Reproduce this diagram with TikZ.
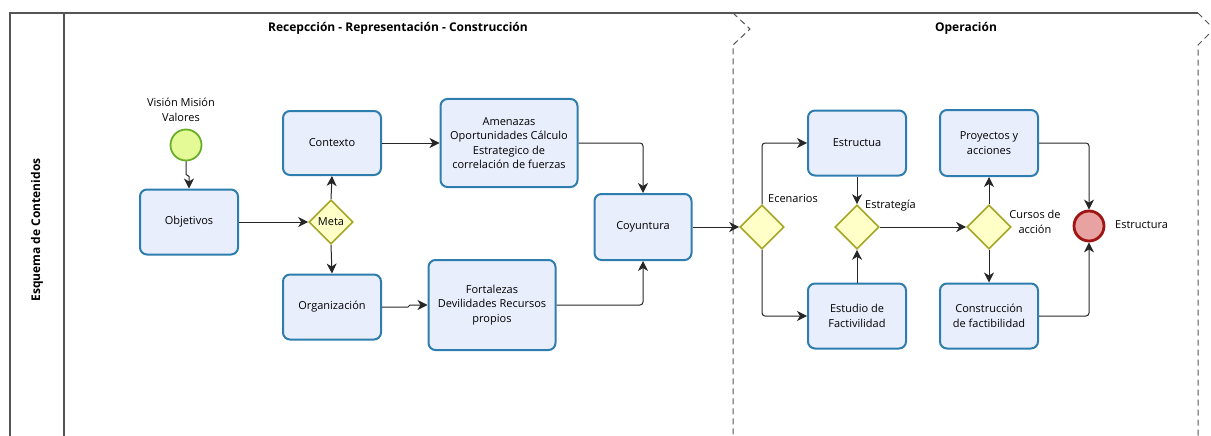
\documentclass[tikz,border=0pt]{standalone}
\usepackage{fontspec}
\setmainfont{Open Sans}
\usetikzlibrary{shapes.geometric,arrows.meta,positioning}
\definecolor{boxfill}{HTML}{E9EEFC}
\definecolor{boxdraw}{HTML}{2E7DAF}
\definecolor{gwfill}{HTML}{FFFFC8}
\definecolor{gwdraw}{HTML}{A6A626}
\definecolor{stfill}{HTML}{E4FA96}
\definecolor{stdraw}{HTML}{6BAE28}
\definecolor{enfill}{HTML}{E8A2A2}
\definecolor{endraw}{HTML}{A01414}
\definecolor{pool}{HTML}{555555}
\tikzset{
  task/.style={draw=boxdraw,fill=boxfill,line width=2pt,rounded corners=7pt,align=center,font=\fontsize{11}{14.5}\selectfont,inner sep=1pt},
  gw/.style={diamond,draw=gwdraw,fill=gwfill,line width=1.6pt,minimum width=44pt,minimum height=44pt,inner sep=0pt,font=\fontsize{11}{14}\selectfont},
  startev/.style={circle,draw=stdraw,fill=stfill,line width=1.8pt,minimum size=31pt,inner sep=0pt},
  endev/.style={circle,draw=endraw,fill=enfill,line width=2.8pt,minimum size=30pt,inner sep=0pt},
  lbl/.style={align=center,font=\fontsize{11}{14.5}\selectfont,inner sep=1pt},
  ttl/.style={font=\bfseries\fontsize{12}{14}\selectfont},
  flow/.style={draw=black!85,line width=1pt,rounded corners=3pt,-{Stealth[length=10pt,width=10pt,inset=3pt]}},
  poolline/.style={draw=pool,line width=1.2pt},
  sep/.style={draw=pool,line width=1pt,dash pattern=on 6pt off 4pt},
}
\begin{document}
\begin{tikzpicture}[x=1pt,y=-1pt]
\useasboundingbox (0,0) rectangle (1211,436);
% pool
\draw[poolline] (10,436) -- (10,13) -- (1198,13);
\draw[poolline] (64,13) -- (64,436);
\draw[sep] (733,13) -- (750,29) -- (733,45) -- (733,436);
\draw[sep] (1198,13) -- (1214,29) -- (1198,45) -- (1198,436);
\node[ttl,rotate=90] (pname) at (37,230) {Esquema de Contenidos};
\node[ttl] (t1) at (398,28) {Recepcción - Representación - Construcción};
\node[ttl] (t2) at (966,28) {Operación};
% nodes
\node[startev] (start) at (186,145) {};
\node[lbl] (startl) at (181,110) {Visión Misión\\Valores};
\node[task,minimum width=98pt,minimum height=65pt] (obj) at (189,222) {Objetivos};
\node[gw] (meta) at (331,222) {Meta};
\node[task,minimum width=98pt,minimum height=64pt] (ctx) at (332,143) {Contexto};
\node[task,minimum width=98pt,minimum height=65pt] (org) at (332,307) {Organización};
\node[task,minimum width=137pt,minimum height=88pt] (ame) at (509,143) {Amenazas\\Oportunidades Cálculo\\Estrategico de\\correlación de fuerzas};
\node[task,minimum width=127pt,minimum height=90pt] (fort) at (492,305) {Fortalezas\\Devilidades Recursos\\propios};
\node[task,minimum width=97pt,minimum height=66pt] (coy) at (643,227) {Coyuntura};
\node[gw] (esc) at (762,227) {};
\node[lbl,anchor=west] (escl) at (767,199) {Ecenarios};
\node[task,minimum width=98pt,minimum height=65pt] (estr) at (857,143) {Estructua};
\node[task,minimum width=98pt,minimum height=65pt] (estu) at (857,316) {Estudio de\\Factivilidad};
\node[gw] (estg) at (857,227) {};
\node[lbl,anchor=west] (estgl) at (864,206) {Estrategía};
\node[gw] (cur) at (989,227) {};
\node[lbl] (curl) at (1035,222) {Cursos de\\acción};
\node[task,minimum width=98pt,minimum height=66pt] (proy) at (989,143) {Proyectos y\\acciones};
\node[task,minimum width=98pt,minimum height=65pt] (cons) at (989,316) {Construcción\\de factibilidad};
\node[endev] (fin) at (1089,226) {};
\node[lbl,anchor=west] (finl) at (1114,225) {Estructura};
% flows
\draw[flow,rounded corners=0pt] (start.south) -- ++(0,13) -- ++(3,2) -- (obj.north);
\draw[flow] (obj.east) -- (meta.west);
\draw[flow] (meta.north) -- (ctx.south);
\draw[flow] (meta.south) -- (org.north);
\draw[flow] (ctx.east) -- (ame.west);
\draw[flow,rounded corners=0pt] (org.east) -- ++(26,0) -- ++(2,-2) -- (fort.west);
\draw[flow] (ame.east) -| (coy.north);
\draw[flow] (fort.east) -| (coy.south);
\draw[flow] (coy.east) -- (esc.west);
\draw[flow] (esc.north) |- (estr.west);
\draw[flow] (esc.south) |- (estu.west);
\draw[flow] (estr.south) -- (estg.north);
\draw[flow] (estu.north) -- (estg.south);
\draw[flow] (estg.east) -- (cur.west);
\draw[flow] (cur.north) -- (proy.south);
\draw[flow] (cur.south) -- (cons.north);
\draw[flow] (proy.east) -| (fin.north);
\draw[flow] (cons.east) -| (fin.south);
\end{tikzpicture}
\end{document}
